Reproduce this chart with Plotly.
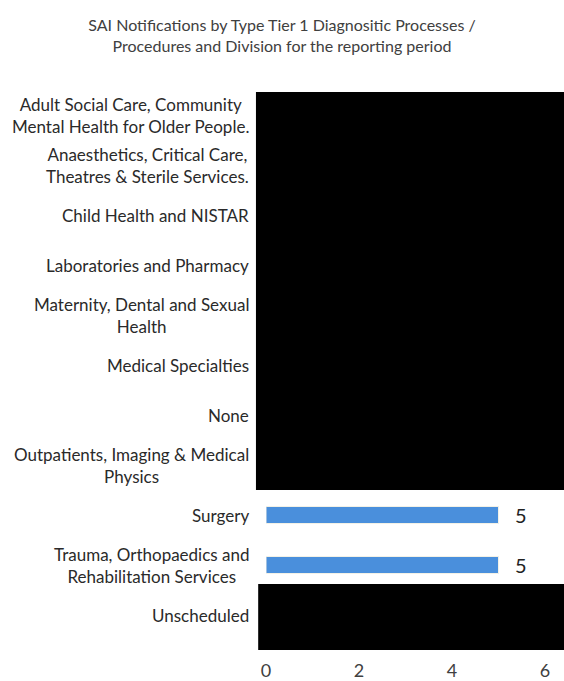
import plotly.graph_objects as go

# Divisions (top to bottom) and SAI notification counts
divisions = [
    "Adult Social Care, Community<br>Mental Health for Older People.",
    "Anaesthetics, Critical Care,<br>Theatres & Sterile Services.",
    "Child Health and NISTAR",
    "Laboratories and Pharmacy",
    "Maternity, Dental and Sexual<br>Health",
    "Medical Specialties",
    "None",
    "Outpatients, Imaging & Medical<br>Physics",
    "Surgery",
    "Trauma, Orthopaedics and<br>Rehabilitation Services",
    "Unscheduled",
]
# Redacted counts are left as None
counts = [None, None, None, None, None, None, None, None, 5, 5, None]
x_ticks = [0, 2, 4, 6]

FONT = "Lato"
TEXT = "#404040"

fig = go.Figure()
fig.add_trace(go.Bar(
    x=counts,
    y=list(range(len(divisions))),
    orientation="h",
    width=0.34,
    marker=dict(color="#4a8fdc", line=dict(color="#f3f1e6", width=1)),
    hoverinfo="skip",
))

# Value labels beside each visible bar
for i, v in enumerate(counts):
    if v is None:
        continue
    fig.add_annotation(
        x=v, xref="x", xanchor="left", xshift=14,
        y=i, yref="y", yanchor="middle",
        text=str(v), showarrow=False,
        font=dict(family=FONT, size=20, color="#222222"),
    )

# Category labels, centred line by line and right-aligned as a block
for i, name in enumerate(divisions):
    fig.add_annotation(
        x=-0.052, xref="paper", xanchor="right",
        y=i, yref="y", yanchor="middle",
        text=name, showarrow=False, align="center",
        font=dict(family=FONT, size=17, color="#2a2a2a"),
    )

# Redaction blocks
fig.add_shape(type="rect", xref="paper", yref="paper",
              x0=-0.036, x1=1.08, y0=0.2727, y1=0.9964,
              fillcolor="black", line=dict(width=0), layer="above")
fig.add_shape(type="rect", xref="paper", yref="paper",
              x0=-0.028, x1=1.08, y0=-0.018, y1=0.1018,
              fillcolor="black", line=dict(width=0), layer="above")

fig.update_layout(
    width=564, height=681,
    margin=dict(l=266, r=19, t=90, b=41, autoexpand=False),
    paper_bgcolor="white", plot_bgcolor="white",
    showlegend=False,
    title=dict(
        text="SAI Notifications by Type Tier 1 Diagnositic Processes /<br>Procedures and Division for the reporting period",
        x=0.5, xanchor="center", xref="container",
        y=1 - 31 / 681, yref="container", yanchor="middle",
        font=dict(family=FONT, size=16, color=TEXT),
    ),
    xaxis=dict(
        range=[0, 6], tickvals=x_ticks, showgrid=False, zeroline=False,
        showline=False, ticks="", ticklabelstandoff=18, automargin=False,
        tickfont=dict(family=FONT, size=18, color=TEXT),
    ),
    yaxis=dict(
        range=[len(divisions) - 0.5, -0.5], showticklabels=False,
        showgrid=False, zeroline=False, showline=False, ticks="",
        automargin=False,
    ),
)

fig.write_html("out.html")
